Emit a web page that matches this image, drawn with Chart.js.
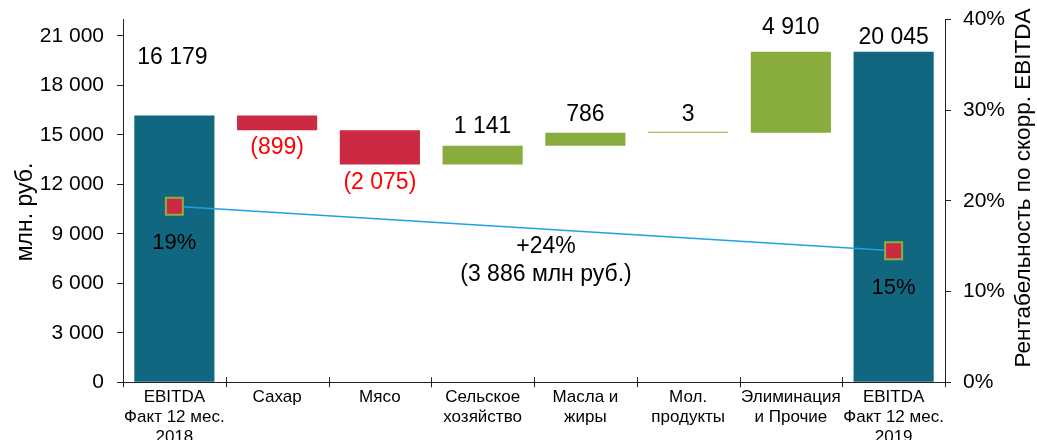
<!DOCTYPE html>
<html>
<head>
<meta charset="utf-8">
<script src="https://cdn.jsdelivr.net/npm/chart.js@4.4.1/dist/chart.umd.min.js"></script>
<style>
html,body{margin:0;padding:0;background:#fff;}
#wrap{width:1037px;height:440px;position:relative;}
</style>
</head>
<body>
<div id="wrap"><canvas id="c" width="1037" height="440"></canvas></div>
<script>
// ---- data ----
const categories = [
  ['EBITDA','Факт 12 мес.','2018'],
  ['Сахар'],
  ['Мясо'],
  ['Сельское','хозяйство'],
  ['Масла и','жиры'],
  ['Мол.','продукты'],
  ['Элиминация','и Прочие'],
  ['EBITDA','Факт 12 мес.','2019']
];
const startValue = 16179;
const changes = [-899, -2075, 1141, 786, 3, 4910];
const endValue = 20045;
const marginPct = [19.4, null, null, null, null, null, null, 14.5];
const leftTicks = [0, 3000, 6000, 9000, 12000, 15000, 18000, 21000];
const rightTicks = [0, 10, 20, 30, 40];
const growthText = ['+24%', '(3 886 млн руб.)'];
const leftTitle = 'млн. руб.';
const rightTitle = 'Рентабельность по скорр. EBITDA';

// ---- derived ----
const barData = [];
const barValues = [];
let run = startValue;
barData.push([0, startValue]); barValues.push(startValue);
changes.forEach(d => { barData.push([run, run + d]); barValues.push(d); run += d; });
barData.push([0, endValue]); barValues.push(endValue);

const TEAL = '#10677f', RED = '#cc2942', GREEN = '#88ad3e';
const barColors = barValues.map((v, i) => (i === 0 || i === barValues.length - 1) ? TEAL : (v < 0 ? RED : GREEN));

function fmt(n){ return String(Math.abs(Math.round(n))).replace(/\B(?=(\d{3})+(?!\d))/g, ' '); }

const FONT = '"Liberation Sans", Arial, sans-serif';

const labelPlugin = {
  id: 'labels',
  afterDatasetsDraw(chart, args, opts) {
    const ctx = chart.ctx;
    const meta = chart.getDatasetMeta(0);
    const area = chart.chartArea;
    ctx.save();
    ctx.textAlign = 'center';
    ctx.textBaseline = 'middle';
    ctx.font = '23px ' + FONT;
    meta.data.forEach((el, i) => {
      const v = barValues[i];
      const top = Math.min(el.y, el.base), bot = Math.max(el.y, el.base);
      const off = opts.offsets[i];
      if (v < 0) {
        ctx.fillStyle = '#ff0000';
        ctx.fillText('(' + fmt(v) + ')', el.x, bot + off);
      } else {
        ctx.fillStyle = '#000';
        ctx.fillText(fmt(v), el.x - (i === 0 ? 2 : 0), top - off);
      }
    });
    // percentage labels
    const lm = chart.getDatasetMeta(1);
    ctx.font = '22px ' + FONT;
    ctx.fillStyle = '#000';
    lm.data.forEach((p, i) => {
      if (marginPct[i] == null) return;
      ctx.fillText(Math.round(marginPct[i]) + '%', p.x, p.y + 37);
    });
    // growth annotation
    const cx = (area.left + area.right) / 2 + 12;
    ctx.font = '23px ' + FONT;
    ctx.fillText(growthText[0], cx, 247);
    ctx.fillText(growthText[1], cx, 275);
    ctx.restore();
  },
  afterDraw(chart) {
    const ctx = chart.ctx;
    const area = chart.chartArea;
    const n = categories.length;
    const w = (area.right - area.left) / n;
    ctx.save();
    ctx.strokeStyle = '#222';
    ctx.lineWidth = 1;
    ctx.beginPath();
    for (let i = 0; i <= n; i++) {
      const x = Math.round(area.left + i * w) + 0.5;
      ctx.moveTo(x, area.bottom - 5);
      ctx.lineTo(x, area.bottom + 5);
    }
    ctx.stroke();
    // axis titles
    ctx.fillStyle = '#000';
    ctx.textAlign = 'center';
    ctx.textBaseline = 'middle';
    ctx.font = '23px ' + FONT;
    ctx.translate(26, 212);
    ctx.rotate(-Math.PI / 2);
    ctx.fillText(leftTitle, 0, 0);
    ctx.setTransform(1, 0, 0, 1, 0, 0);
    ctx.font = '22.5px ' + FONT;
    ctx.translate(1024, 188);
    ctx.rotate(-Math.PI / 2);
    ctx.fillText(rightTitle, 0, 0);
    ctx.restore();
  }
};

function noPad(s) { s.paddingTop = 0; s.paddingBottom = 0; }

new Chart(document.getElementById('c'), {
  type: 'bar',
  data: {
    labels: categories,
    datasets: [
      {
        type: 'bar',
        data: barData,
        backgroundColor: barColors,
        borderWidth: 0,
        barPercentage: 0.78,
        categoryPercentage: 1,
        minBarLength: 1,
        yAxisID: 'y',
        order: 2
      },
      {
        type: 'line',
        data: marginPct,
        yAxisID: 'y2',
        spanGaps: true,
        borderColor: '#1ea3e0',
        borderWidth: 1.5,
        pointStyle: 'rect',
        pointRadius: 12,
        pointHoverRadius: 12,
        pointBackgroundColor: '#cc2942',
        pointBorderColor: '#8cb040',
        pointBorderWidth: 2,
        order: 1
      }
    ]
  },
  options: {
    responsive: false,
    animation: false,
    events: [],
    layout: { padding: { top: 19.5, left: 0, right: 0, bottom: 0 } },
    plugins: {
      legend: { display: false },
      tooltip: { enabled: false },
      labels: { offsets: [58, 17, 18, 19, 18, 17, 24, 14] }
    },
    scales: {
      x: {
        offset: true,
        grid: { display: false, drawTicks: false },
        border: { display: true, color: '#222', width: 1 },
        ticks: {
          color: '#000',
          font: { family: FONT, size: 17, lineHeight: 1.18 },
          padding: 5,
          maxRotation: 0,
          autoSkip: false
        },
        afterFit(s) { s.height = 440 - 382.3; s.paddingLeft = 0; s.paddingRight = 0; }
      },
      y: {
        position: 'left',
        min: 0,
        max: 22000,
        afterBuildTicks(s) { s.ticks = leftTicks.map(v => ({ value: v })); },
        grid: { drawOnChartArea: false, drawTicks: true, tickLength: 6, color: '#222' },
        border: { display: true, color: '#222', width: 1 },
        ticks: {
          color: '#000',
          font: { family: FONT, size: 21 },
          padding: 13,
          callback: v => fmt(v)
        },
        afterFit(s) { s.width = 123; noPad(s); }
      },
      y2: {
        position: 'right',
        min: 0,
        max: 40,
        afterBuildTicks(s) { s.ticks = rightTicks.map(v => ({ value: v })); },
        grid: { drawOnChartArea: false, drawTicks: true, tickLength: 6, color: '#222' },
        border: { display: true, color: '#222', width: 1 },
        ticks: {
          color: '#000',
          font: { family: FONT, size: 21 },
          padding: 12,
          callback: v => v + '%'
        },
        afterFit(s) { s.width = 1037 - 945; noPad(s); }
      }
    }
  },
  plugins: [labelPlugin]
});
</script>
</body>
</html>
